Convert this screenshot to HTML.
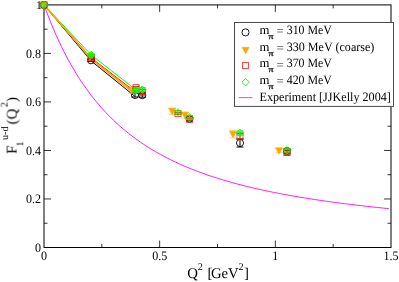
<!DOCTYPE html>
<html><head><meta charset="utf-8"><title>F1 u-d</title>
<style>
html,body{margin:0;padding:0;background:#fff;}
svg{display:block;}
text{font-family:"Liberation Serif",serif;fill:#000;will-change:transform;text-rendering:geometricPrecision;}
.lg{font-size:12.8px;}
.tk{font-size:12.9px;}
.ax{font-size:14.8px;}
.sp{font-size:10.2px;}
</style></head><body>
<svg width="399" height="282" viewBox="0 0 399 282">
<rect width="399" height="282" fill="#fff"/>
<path d="M44.0,223.24h3.5M391.0,223.24h-3.5M44.0,198.98h7M391.0,198.98h-7M44.0,174.72h3.5M391.0,174.72h-3.5M44.0,150.46h7M391.0,150.46h-7M44.0,126.20h3.5M391.0,126.20h-3.5M44.0,101.94h7M391.0,101.94h-7M44.0,77.68h3.5M391.0,77.68h-3.5M44.0,53.42h7M391.0,53.42h-7M44.0,29.16h3.5M391.0,29.16h-3.5M101.83,247.5v-3.5M101.83,4.9v3.5M159.67,247.5v-7M159.67,4.9v7M217.50,247.5v-3.5M217.50,4.9v3.5M275.33,247.5v-7M275.33,4.9v7M333.17,247.5v-3.5M333.17,4.9v3.5" stroke="#000" stroke-width="0.8" fill="none"/>
<rect x="44.0" y="4.9" width="347.0" height="242.6" fill="none" stroke="#000" stroke-width="1"/>
<path d="M44.0,4.90 L46.5,11.61 L49.0,18.04 L51.4,24.19 L53.9,30.09 L56.4,35.74 L58.9,41.16 L61.4,46.37 L63.8,51.36 L66.3,56.16 L68.8,60.78 L71.3,65.21 L73.8,69.47 L76.2,73.58 L78.7,77.53 L81.2,81.33 L83.7,85.00 L86.2,88.53 L88.7,91.94 L91.1,95.22 L93.6,98.39 L96.1,101.45 L98.6,104.41 L101.1,107.27 L103.5,110.03 L106.0,112.70 L108.5,115.28 L111.0,117.78 L113.5,120.19 L115.9,122.53 L118.4,124.80 L120.9,127.00 L123.4,129.13 L125.9,131.19 L128.3,133.19 L130.8,135.13 L133.3,137.02 L135.8,138.85 L138.3,140.62 L140.7,142.35 L143.2,144.02 L145.7,145.65 L148.2,147.23 L150.7,148.77 L153.1,150.27 L155.6,151.72 L158.1,153.14 L160.6,154.52 L163.1,155.86 L165.5,157.17 L168.0,158.44 L170.5,159.68 L173.0,160.89 L175.5,162.07 L178.0,163.22 L180.4,164.34 L182.9,165.43 L185.4,166.50 L187.9,167.54 L190.4,168.55 L192.8,169.54 L195.3,170.51 L197.8,171.46 L200.3,172.38 L202.8,173.28 L205.2,174.16 L207.7,175.03 L210.2,175.87 L212.7,176.69 L215.2,177.50 L217.6,178.29 L220.1,179.06 L222.6,179.81 L225.1,180.55 L227.6,181.27 L230.0,181.98 L232.5,182.68 L235.0,183.36 L237.5,184.02 L240.0,184.67 L242.4,185.31 L244.9,185.94 L247.4,186.55 L249.9,187.15 L252.4,187.74 L254.8,188.32 L257.3,188.89 L259.8,189.44 L262.3,189.99 L264.8,190.53 L267.3,191.05 L269.7,191.57 L272.2,192.08 L274.7,192.57 L277.2,193.06 L279.7,193.54 L282.1,194.02 L284.6,194.48 L287.1,194.94 L289.6,195.38 L292.1,195.82 L294.5,196.26 L297.0,196.68 L299.5,197.10 L302.0,197.51 L304.5,197.92 L306.9,198.32 L309.4,198.71 L311.9,199.09 L314.4,199.47 L316.9,199.85 L319.3,200.22 L321.8,200.58 L324.3,200.93 L326.8,201.29 L329.3,201.63 L331.7,201.97 L334.2,202.31 L336.7,202.64 L339.2,202.97 L341.7,203.29 L344.1,203.61 L346.6,203.92 L349.1,204.23 L351.6,204.53 L354.1,204.83 L356.6,205.13 L359.0,205.42 L361.5,205.71 L364.0,206.00 L366.5,206.28 L369.0,206.56 L371.4,206.83 L373.9,207.10 L376.4,207.37 L378.9,207.63 L381.4,207.89 L383.8,208.15 L386.3,208.41 L388.8,208.66" fill="none" stroke="#ff00ff" stroke-width="0.9"/>
<polyline points="44,4.9 91,60.8 134.5,96.0" fill="none" stroke="#000" stroke-width="1.0"/>
<polyline points="44,4.9 91.3,58.0 136,92.3" fill="none" stroke="#ff0000" stroke-width="0.95"/>
<polyline points="44,4.9 91.3,55 136,89.9" fill="none" stroke="#00ff00" stroke-width="1.0"/>
<polyline points="44,4.9 90,57.2 90,58.2 131.5,91.0" fill="none" stroke="#ffa500" stroke-width="1.6"/>
<path d="M91,59.3V61.3M87.5,59.3h7M87.5,61.3h7" stroke="#000" stroke-width="1" fill="none"/>
<path d="M135.0,93.0V97.0M131.5,93.0h7M131.5,97.0h7" stroke="#000" stroke-width="1" fill="none"/>
<path d="M142.3,93.2V97.2M138.8,93.2h7M138.8,97.2h7" stroke="#000" stroke-width="1" fill="none"/>
<path d="M189.5,116.8V120.8M186.0,116.8h7M186.0,120.8h7" stroke="#000" stroke-width="1" fill="none"/>
<path d="M240,139V147M236.5,139h7M236.5,147h7" stroke="#000" stroke-width="1" fill="none"/>
<path d="M287,149V153M283.5,149h7M283.5,153h7" stroke="#000" stroke-width="1" fill="none"/>
<circle cx="44" cy="4.9" r="3.55" fill="none" stroke="#000" stroke-width="0.9"/>
<circle cx="91" cy="60.3" r="3.55" fill="none" stroke="#000" stroke-width="0.9"/>
<circle cx="135.0" cy="95.0" r="3.55" fill="none" stroke="#000" stroke-width="0.9"/>
<circle cx="142.3" cy="95.2" r="3.55" fill="none" stroke="#000" stroke-width="0.9"/>
<circle cx="189.5" cy="118.8" r="3.55" fill="none" stroke="#000" stroke-width="0.9"/>
<circle cx="240" cy="143" r="3.55" fill="none" stroke="#000" stroke-width="0.9"/>
<circle cx="287" cy="151" r="3.55" fill="none" stroke="#000" stroke-width="0.9"/>
<path d="M90,54.199999999999996V60.4M86.5,54.199999999999996h7M86.5,60.4h7" stroke="#ffa500" stroke-width="0.5" fill="none"/>
<path d="M131.5,87.2V93.39999999999999M128.0,87.2h7M128.0,93.39999999999999h7" stroke="#ffa500" stroke-width="0.5" fill="none"/>
<path d="M172.2,108.10000000000001V114.3M168.7,108.10000000000001h7M168.7,114.3h7" stroke="#ffa500" stroke-width="0.5" fill="none"/>
<path d="M185,112.10000000000001V118.3M181.5,112.10000000000001h7M181.5,118.3h7" stroke="#ffa500" stroke-width="0.5" fill="none"/>
<path d="M233,130.5V137.89999999999998M229.5,130.5h7M229.5,137.89999999999998h7" stroke="#ffa500" stroke-width="0.5" fill="none"/>
<path d="M279,148.6V152.6M275.5,148.6h7M275.5,152.6h7" stroke="#ffa500" stroke-width="0.5" fill="none"/>
<path d="M40.40,2.00h7.2L44,8.50z" fill="#ffa500" stroke="#ffa500" stroke-width="0.5"/>
<path d="M86.40,54.40h7.2L90,60.90z" fill="#ffa500" stroke="#ffa500" stroke-width="0.5"/>
<path d="M127.90,87.40h7.2L131.5,93.90z" fill="#ffa500" stroke="#ffa500" stroke-width="0.5"/>
<path d="M168.60,108.30h7.2L172.2,114.80z" fill="#ffa500" stroke="#ffa500" stroke-width="0.5"/>
<path d="M181.40,112.30h7.2L185,118.80z" fill="#ffa500" stroke="#ffa500" stroke-width="0.5"/>
<path d="M229.40,131.30h7.2L233,137.80z" fill="#ffa500" stroke="#ffa500" stroke-width="0.5"/>
<path d="M275.40,147.70h7.2L279,154.20z" fill="#ffa500" stroke="#ffa500" stroke-width="0.5"/>
<path d="M91.3,56.8V58.8M87.8,56.8h7M87.8,58.8h7" stroke="#ff0000" stroke-width="1" fill="none"/>
<path d="M136,86.6V88.6M132.5,86.6h7M132.5,88.6h7" stroke="#ff0000" stroke-width="1" fill="none"/>
<path d="M142.4,89.7V94.7M138.9,89.7h7M138.9,94.7h7" stroke="#ff0000" stroke-width="1" fill="none"/>
<path d="M178,112.8V114.39999999999999M174.5,112.8h7M174.5,114.39999999999999h7" stroke="#ff0000" stroke-width="1" fill="none"/>
<path d="M189.5,118.2V120.2M186.0,118.2h7M186.0,120.2h7" stroke="#ff0000" stroke-width="1" fill="none"/>
<path d="M240,133.2V139.2M236.5,133.2h7M236.5,139.2h7" stroke="#ff0000" stroke-width="1" fill="none"/>
<path d="M287,150.0V155.0M283.5,150.0h7M283.5,155.0h7" stroke="#ff0000" stroke-width="1" fill="none"/>
<rect x="41.00" y="1.90" width="6" height="6" fill="none" stroke="#ff0000" stroke-width="0.9" stroke-opacity="0.78"/>
<rect x="88.30" y="54.80" width="6" height="6" fill="none" stroke="#ff0000" stroke-width="0.9" stroke-opacity="0.78"/>
<rect x="133.00" y="84.60" width="6" height="6" fill="none" stroke="#ff0000" stroke-width="0.9" stroke-opacity="0.78"/>
<rect x="139.40" y="89.20" width="6" height="6" fill="none" stroke="#ff0000" stroke-width="0.9" stroke-opacity="0.78"/>
<rect x="175.00" y="110.60" width="6" height="6" fill="none" stroke="#ff0000" stroke-width="0.9" stroke-opacity="0.78"/>
<rect x="186.50" y="116.20" width="6" height="6" fill="none" stroke="#ff0000" stroke-width="0.9" stroke-opacity="0.78"/>
<rect x="237.00" y="133.20" width="6" height="6" fill="none" stroke="#ff0000" stroke-width="0.9" stroke-opacity="0.78"/>
<rect x="284.00" y="149.50" width="6" height="6" fill="none" stroke="#ff0000" stroke-width="0.9" stroke-opacity="0.78"/>
<path d="M91.3,54V56M87.8,54h7M87.8,56h7" stroke="#00ff00" stroke-width="1" fill="none"/>
<path d="M136.1,88.2V92.2M132.6,88.2h7M132.6,92.2h7" stroke="#00ff00" stroke-width="1" fill="none"/>
<path d="M142.3,87.7V91.7M138.8,87.7h7M138.8,91.7h7" stroke="#00ff00" stroke-width="1" fill="none"/>
<path d="M178,111.0V114.0M174.5,111.0h7M174.5,114.0h7" stroke="#00ff00" stroke-width="1" fill="none"/>
<path d="M189.5,115.5V119.5M186.0,115.5h7M186.0,119.5h7" stroke="#00ff00" stroke-width="1" fill="none"/>
<path d="M240,131V135M236.5,131h7M236.5,135h7" stroke="#00ff00" stroke-width="1" fill="none"/>
<path d="M287,149.0V152.0M283.5,149.0h7M283.5,152.0h7" stroke="#00ff00" stroke-width="1" fill="none"/>
<path d="M40.20,4.9L44,1.10L47.80,4.9L44,8.70z" fill="#00ff00" fill-opacity="0.45" stroke="#00ff00" stroke-width="0.9"/>
<path d="M87.50,55L91.3,51.20L95.10,55L91.3,58.80z" fill="#00ff00" fill-opacity="0.85" stroke="#00ff00" stroke-width="0.9"/>
<path d="M132.30,90.2L136.1,86.40L139.90,90.2L136.1,94.00z" fill="#00ff00" fill-opacity="0.65" stroke="#00ff00" stroke-width="0.9"/>
<path d="M138.50,89.7L142.3,85.90L146.10,89.7L142.3,93.50z" fill="#00ff00" fill-opacity="0.45" stroke="#00ff00" stroke-width="0.9"/>
<path d="M174.20,112.5L178,108.70L181.80,112.5L178,116.30z" fill="#00ff00" fill-opacity="0.1" stroke="#00ff00" stroke-width="0.9"/>
<path d="M185.70,117.5L189.5,113.70L193.30,117.5L189.5,121.30z" fill="#00ff00" fill-opacity="0.1" stroke="#00ff00" stroke-width="0.9"/>
<path d="M236.20,133L240,129.20L243.80,133L240,136.80z" fill="#00ff00" fill-opacity="0.3" stroke="#00ff00" stroke-width="0.9"/>
<path d="M283.20,150.5L287,146.70L290.80,150.5L287,154.30z" fill="#00ff00" fill-opacity="0.5" stroke="#00ff00" stroke-width="0.9"/>
<path d="M284.6,150.6H289.6" stroke="#ff0000" stroke-width="1"/>
<rect x="234.5" y="22.5" width="159" height="83.9" fill="#fff" stroke="#4a4a4a" stroke-width="1"/>
<circle cx="245.5" cy="32.4" r="3.55" fill="none" stroke="#000" stroke-width="0.9"/>
<path d="M242.00,47.30h7.2L245.6,53.80z" fill="#ffa500" stroke="#ffa500" stroke-width="0.5"/>
<rect x="242.50" y="62.50" width="6" height="6" fill="none" stroke="#ff0000" stroke-width="0.9" stroke-opacity="0.78"/>
<path d="M241.80,82.2L245.6,78.40L249.40,82.2L245.6,86.00z" fill="#00ff00" fill-opacity="0" stroke="#00ff00" stroke-width="0.9"/>
<path d="M238.7,97.6H252.5" stroke="#ff00ff" stroke-width="0.8"/>
<text x="259.6" y="34.00" class="lg">m</text>
<text transform="translate(268.6,38.90) scale(1.22,1)" class="lg" style="font-size:8.2px;stroke:#000;stroke-width:0.25px">π</text>
<text x="276.5" y="35.20" class="lg">=</text>
<text x="286.7" y="34.00" class="lg" textLength="45.2" lengthAdjust="spacingAndGlyphs">310 MeV</text>
<text x="259.6" y="50.66" class="lg">m</text>
<text transform="translate(268.6,55.56) scale(1.22,1)" class="lg" style="font-size:8.2px;stroke:#000;stroke-width:0.25px">π</text>
<text x="276.5" y="51.86" class="lg">=</text>
<text x="286.7" y="50.66" class="lg" textLength="87.7" lengthAdjust="spacingAndGlyphs">330 MeV (coarse)</text>
<text x="259.6" y="67.32" class="lg">m</text>
<text transform="translate(268.6,72.22) scale(1.22,1)" class="lg" style="font-size:8.2px;stroke:#000;stroke-width:0.25px">π</text>
<text x="276.5" y="68.52" class="lg">=</text>
<text x="286.7" y="67.32" class="lg" textLength="45.2" lengthAdjust="spacingAndGlyphs">370 MeV</text>
<text x="259.6" y="83.98" class="lg">m</text>
<text transform="translate(268.6,88.88) scale(1.22,1)" class="lg" style="font-size:8.2px;stroke:#000;stroke-width:0.25px">π</text>
<text x="276.5" y="85.18" class="lg">=</text>
<text x="286.7" y="83.98" class="lg" textLength="45.2" lengthAdjust="spacingAndGlyphs">420 MeV</text>
<text x="259.5" y="100.7" class="lg" textLength="131.3" lengthAdjust="spacingAndGlyphs">Experiment [JJKelly 2004]</text>
<text x="35.9" y="8.9" class="tk" style="font-size:11.8px">1</text>
<text x="35.08" y="251.85" class="tk" textLength="6.03" lengthAdjust="spacingAndGlyphs">0</text>
<text x="26.04" y="203.33" class="tk" textLength="15.06" lengthAdjust="spacingAndGlyphs">0.2</text>
<text x="26.04" y="154.81" class="tk" textLength="15.06" lengthAdjust="spacingAndGlyphs">0.4</text>
<text x="26.04" y="106.29" class="tk" textLength="15.06" lengthAdjust="spacingAndGlyphs">0.6</text>
<text x="26.04" y="57.77" class="tk" textLength="15.06" lengthAdjust="spacingAndGlyphs">0.8</text>
<text x="40.99" y="259.7" class="tk" textLength="6.03" lengthAdjust="spacingAndGlyphs">0</text>
<text x="152.14" y="259.7" class="tk" textLength="15.06" lengthAdjust="spacingAndGlyphs">0.5</text>
<text x="272.32" y="259.7" class="tk" textLength="6.03" lengthAdjust="spacingAndGlyphs">1</text>
<text x="383.47" y="259.7" class="tk" textLength="15.06" lengthAdjust="spacingAndGlyphs">1.5</text>
<text x="187.3" y="277.6" class="ax">Q</text>
<text x="197.8" y="269.7" class="sp">2</text>
<text x="207.5" y="277.6" class="ax">[</text>
<text x="210.9" y="277.6" class="ax" textLength="27.7" lengthAdjust="spacingAndGlyphs">GeV</text>
<text x="238.6" y="269.7" class="sp">2</text>
<text x="244.1" y="277.6" class="ax">]</text>
<text transform="translate(16.6,153.8) rotate(-90)" class="ax">F</text>
<text transform="translate(23.3,146.5) rotate(-90)" class="sp">1</text>
<text transform="translate(8.1,140) rotate(-90)" class="sp">u-d</text>
<text transform="translate(16.6,124.4) rotate(-90)" class="ax">(Q</text>
<text transform="translate(7.6,107.2) rotate(-90)" class="sp">2</text>
<text transform="translate(16.6,102) rotate(-90)" class="ax">)</text>
</svg>
</body></html>
